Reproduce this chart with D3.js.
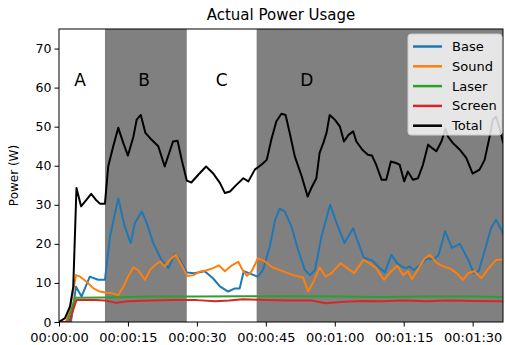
<!DOCTYPE html>
<html><head><meta charset="utf-8">
<script src="https://cdn.jsdelivr.net/npm/d3@7"></script>
<style>
html,body{margin:0;padding:0;background:#fff;}
svg{display:block;font-family:"DejaVu Sans",sans-serif;}
</style></head>
<body><svg id="chart" width="505" height="345"></svg>
<script>
// ---- data ----
const seriesNames = ["Base", "Sound", "Laser", "Screen", "Total"];
const seriesColors = ["#1f77b4", "#ff7f0e", "#2ca02c", "#d62728", "#000000"];

const base = [[0,0],[2.6,0],[3.7,9],[4.9,6.5],[6.7,11.6],[8.5,10.8],[10,10.8],[11.1,21.9],[12.9,31.7],[14.3,24.4],[15.6,20.2],[16.5,25.3],[18,28.3],[19.1,25.3],[20.5,20.2],[22.3,15.9],[23.8,13.8],[25.2,17.4],[26.3,16],[27.8,12.7],[29.4,12.5],[31.7,13],[33.5,11.2],[35,9.1],[36.8,7.8],[38.3,8.6],[39.3,8.6],[40.2,13],[41.3,12.5],[43.2,11.6],[44.4,13.3],[45.9,19.5],[47,26],[48,29],[49.1,28.3],[50.6,24.4],[52,18.5],[53.5,13.3],[54.6,12],[55.7,13.3],[57.1,21.9],[59,30],[60.4,25.3],[62.1,20.2],[64,24],[64.9,21],[66.3,16.5],[68.2,15.7],[69.6,14],[70.9,12.7],[72.3,17.2],[73.6,15],[74.5,14.2],[75.5,13.8],[76.3,14.2],[77.2,13.3],[78.5,14.5],[80.1,16.3],[81.6,16],[82.6,17.2],[84,23.2],[85.5,19],[87.2,20],[89,16],[90.2,12.5],[91.3,13],[92.8,19],[94,24],[95.1,26.2],[96.6,22.7]];

const sound = [[0,0],[1.5,0],[2.5,4],[3.7,12],[4.6,11.6],[6,10.3],[7.5,8.6],[8.9,7.8],[10.4,7.5],[11.4,7.4],[12.9,6.9],[14,9],[15,11.6],[16.2,14],[17.2,13.3],[18.7,10.8],[19.8,13.3],[20.9,14.6],[22,15.5],[23,14.2],[24.1,15.9],[25.4,17.2],[26.7,14.5],[27.9,11.8],[29.2,12],[30.7,12.9],[32,13.2],[33.5,13.8],[34.8,14.5],[36.1,13],[37.5,14.4],[39,15.4],[40,13.2],[40.9,11.8],[41.9,13],[43.3,16.3],[44.8,15.5],[46.4,14],[48.5,13.1],[50.9,12],[53.1,11.4],[54.2,7.8],[55.3,10.1],[56.7,14],[58,11.6],[59.3,12.5],[61.2,15],[62.7,13.8],[64.2,12.5],[66.2,15.9],[67.6,15],[69,13.8],[70.7,10.8],[72.2,12.9],[73.6,14.4],[74.9,12],[75.9,13],[76.8,11],[78,13.3],[79.6,16.3],[80.7,17.2],[82.1,15.2],[83.7,14.2],[85.2,13.6],[86.5,12.5],[87.9,10.8],[89,12.5],[90.4,13],[91.9,11.2],[93.5,13.8],[95.1,15.9],[96.6,16]];

const laser = [[0,0],[1.8,0],[3.5,6.2],[10,6.3],[20,6.5],[30,6.5],[40,6.6],[50,6.6],[60,6.5],[70,6.4],[80,6.5],[90,6.5],[96.6,6.4]];

const screen = [[0,0],[2.2,0],[3.8,5.6],[8,5.6],[10,5.5],[12.5,4.9],[15,5.3],[20,5.5],[25,5.6],[30,5.6],[34,5.3],[37,5.5],[40,5.8],[45,5.6],[50,5.5],[55,5.5],[58,4.8],[62,5.2],[66,5.4],[70,5.3],[75,5.5],[80,5.3],[85,5.5],[90,5.4],[96.6,5.3]];

const total = [[0,0],[1.3,1],[2.4,4],[3.1,9],[3.8,34.3],[4.8,29.6],[6,31.3],[7,32.8],[8,31.3],[8.9,30.3],[10,30.3],[10.7,39.8],[11.8,45],[12.9,49.7],[14,45.8],[15,42.6],[16.2,47.5],[16.9,51.8],[17.8,53],[18.8,48.4],[20.1,46.7],[21.6,45],[23,39.8],[24.8,46.2],[25.8,46.4],[26.7,41.5],[27.8,36.2],[28.8,35.7],[30.3,37.7],[32,39.8],[33.5,38.1],[35,35.6],[36.1,33],[37.2,33.4],[38.6,35.1],[40.1,36.8],[41.2,36],[42.6,39],[44.1,40.3],[45.2,41.5],[46.2,46.7],[47.3,51.4],[48.4,53.3],[49.3,53],[50.2,48.4],[51.3,42.4],[52.8,37.3],[54.1,32.1],[54.9,34.3],[56,36.8],[56.7,43.3],[57.5,45.8],[58.2,48.4],[58.9,53],[60,51.8],[61.1,50.1],[62,46.2],[63,47.9],[64,48.8],[64.7,46.2],[66,44.1],[67.2,42.8],[68.1,42.6],[69,40.3],[70.2,36.4],[71.2,36.4],[72.2,41.1],[73.3,40.7],[74.1,40.3],[75.1,36],[75.9,38.5],[77,36.4],[78.1,36.8],[79.2,40.3],[80.3,45.4],[81.2,44.5],[82.1,43.7],[83.2,46.2],[84.1,49.5],[84.6,47.5],[85.7,45.8],[87.2,44.1],[88.6,42],[90,38],[91.5,39],[92.6,41.5],[93.7,47.5],[94.4,51.8],[95.1,52.6],[96,49],[96.6,46]];

const phaseNames = ["A", "B", "C", "D"];
const phaseStart = [0, 10, 27.8, 43];
const phaseEnd = [10, 27.8, 43, 96.6];
const phaseShaded = [false, true, false, true];
const phaseLabelT = [4.6, 18.5, 35.4, 53.9];
const phaseLabelV = 60.5;

const xTickSeconds = [0, 15, 30, 45, 60, 75, 90];
const yTickValues = [0, 10, 20, 30, 40, 50, 60, 70];
const titleText = "Actual Power Usage";
const yLabelText = "Power (W)";

// ---- layout ----
const W = 505, H = 345;
const m = {left: 59, top: 29, right: 2, bottom: 23};
const iw = W - m.left - m.right, ih = H - m.top - m.bottom;
const svg = d3.select("#chart");
const g = svg.append("g").attr("transform", `translate(${m.left},${m.top})`);

const x = d3.scaleLinear().domain([0, 96.6]).range([0, iw]);
const y = d3.scaleLinear().domain([0, 75]).range([ih, 0]);

// shaded regions
g.selectAll("rect.phase").data(phaseNames.map((n, i) => i).filter(i => phaseShaded[i]))
  .enter().append("rect").attr("class", "phase")
  .attr("x", i => x(phaseStart[i])).attr("y", 0)
  .attr("width", i => x(phaseEnd[i]) - x(phaseStart[i])).attr("height", ih)
  .attr("fill", "#808080");

// phase labels
g.selectAll("text.phase").data(phaseNames).enter().append("text")
  .attr("x", (d, i) => x(phaseLabelT[i])).attr("y", y(phaseLabelV))
  .attr("text-anchor", "middle").attr("font-size", 17).attr("fill", "#000")
  .text(d => d);

// lines
const seriesData = [base, sound, laser, screen, total];
const line = d3.line().x(d => x(d[0])).y(d => y(d[1]));
const clip = svg.append("clipPath").attr("id", "clip").append("rect")
  .attr("width", iw).attr("height", ih);
const lg = g.append("g").attr("clip-path", "url(#clip)");
seriesData.forEach((s, i) => {
  lg.append("path").datum(s).attr("d", line)
    .attr("fill", "none").attr("stroke", seriesColors[i])
    .attr("stroke-width", 2).attr("stroke-linejoin", "round").attr("stroke-linecap", "square");
});

// axes
const fmt = s => {
  const hh = Math.floor(s / 3600), mm = Math.floor((s % 3600) / 60), ss = s % 60;
  return [hh, mm, ss].map(v => String(v).padStart(2, "0")).join(":");
};
const xAxis = g.append("g").attr("transform", `translate(0,${ih})`)
  .call(d3.axisBottom(x).tickValues(xTickSeconds).tickFormat(fmt).tickSizeOuter(0).tickSize(4.5).tickPadding(6));
const yAxis = g.append("g")
  .call(d3.axisLeft(y).tickValues(yTickValues).tickSizeOuter(0).tickSize(4.5).tickPadding(3));
[xAxis, yAxis].forEach(a => {
  a.select(".domain").remove();
  a.selectAll("text").attr("font-size", 13).attr("font-family", "DejaVu Sans").attr("fill", "#000");
  a.selectAll("line").attr("stroke", "#000").attr("stroke-width", 1);
});
yAxis.selectAll("text").attr("font-size", 12.5);

// frame
g.append("rect").attr("x", 0).attr("y", 0).attr("width", iw).attr("height", ih)
  .attr("fill", "none").attr("stroke", "#000").attr("stroke-width", 1);

// title & y label
svg.append("text").attr("x", m.left + iw / 2).attr("y", 20).attr("text-anchor", "middle")
  .attr("font-size", 15).attr("fill", "#000").text(titleText);
svg.append("text").attr("transform", `translate(18,${m.top + ih / 2}) rotate(-90)`)
  .attr("text-anchor", "middle").attr("font-size", 12).attr("fill", "#000").text(yLabelText);

// legend
const leg = svg.append("g").attr("transform", "translate(408,34)");
leg.append("rect").attr("x", 0).attr("y", 0).attr("width", 94).attr("height", 101)
  .attr("rx", 3).attr("fill", "#fff").attr("fill-opacity", 0.8)
  .attr("stroke", "#cccccc").attr("stroke-width", 1);
seriesNames.forEach((n, i) => {
  const yy = 12.5 + i * 19.8;
  leg.append("line").attr("x1", 5).attr("x2", 34).attr("y1", yy).attr("y2", yy)
    .attr("stroke", seriesColors[i]).attr("stroke-width", 2.5);
  leg.append("text").attr("x", 44).attr("y", yy + 4.5).attr("font-size", 13)
    .attr("fill", "#000").text(n);
});
</script></body></html>
